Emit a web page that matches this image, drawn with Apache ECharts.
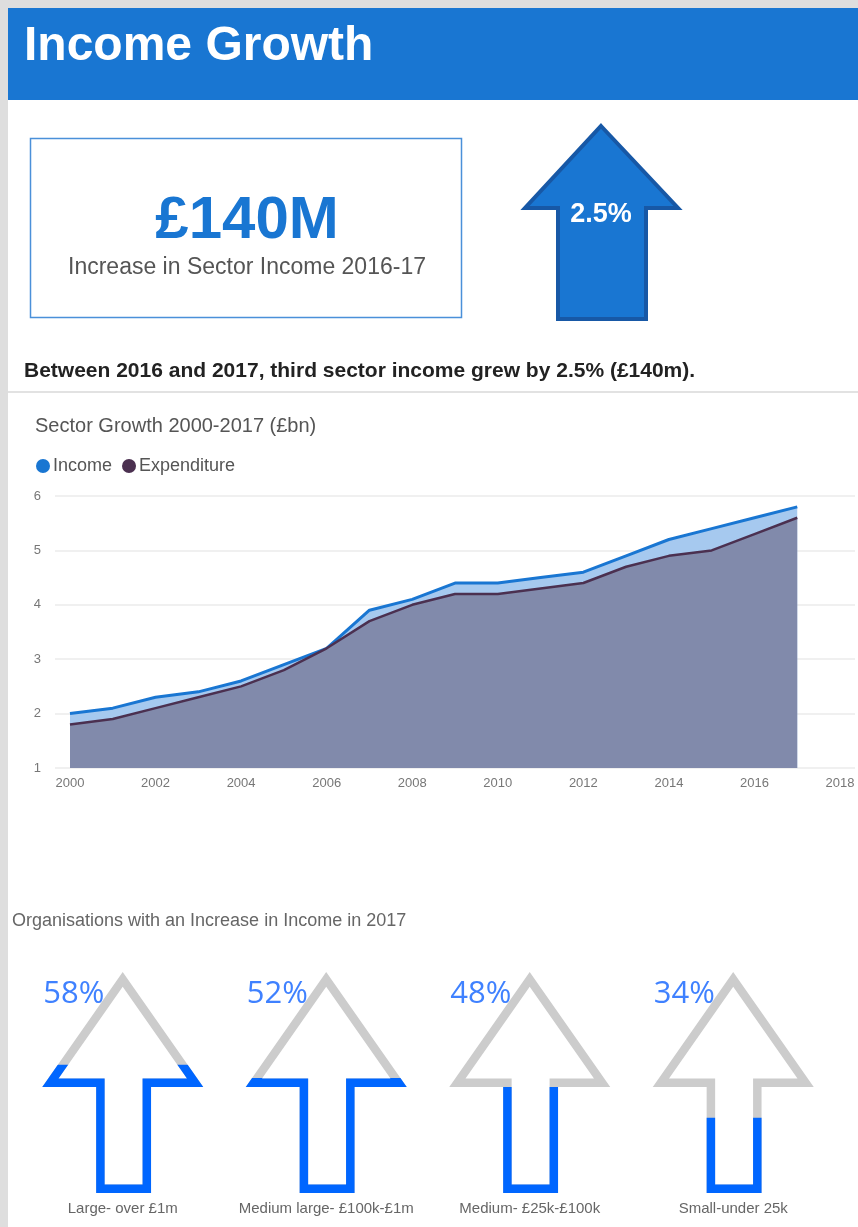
<!DOCTYPE html>
<html>
<head>
<meta charset="utf-8">
<title>Income Growth</title>
<script src="https://cdn.jsdelivr.net/npm/echarts@6/dist/echarts.min.js"></script>
<style>
  html, body { margin: 0; padding: 0; background: #fff; }
  #main { width: 858px; height: 1227px; }
</style>
</head>
<body>
<div id="main"></div>
<script>
// sector totals, £bn
const years = [2000, 2001, 2002, 2003, 2004, 2005, 2006, 2007, 2008, 2009, 2010, 2011, 2012, 2013, 2014, 2015, 2016, 2017];
const income = [2.0, 2.1, 2.3, 2.4, 2.6, 2.9, 3.2, 3.9, 4.1, 4.4, 4.4, 4.5, 4.6, 4.9, 5.2, 5.4, 5.6, 5.8];
const expenditure = [1.8, 1.9, 2.1, 2.3, 2.5, 2.8, 3.2, 3.7, 4.0, 4.2, 4.2, 4.3, 4.4, 4.7, 4.9, 5.0, 5.3, 5.6];
const yearTicks = [2000, 2002, 2004, 2006, 2008, 2010, 2012, 2014, 2016, 2018];

// organisations reporting an increase, by size
const sizeBands = ['Large- over £1m', 'Medium large- £100k-£1m', 'Medium- £25k-£100k', 'Small-under 25k'];
const increasePct = [58, 52, 48, 34];

const headline = '£140M';
const headlineNote = 'Increase in Sector Income 2016-17';
const growthPct = '2.5%';
const summary = 'Between 2016 and 2017, third sector income grew by 2.5% (£140m).';

const BLUE = '#1976D2';
const FONT = '"Liberation Sans", Arial, sans-serif';

// outline arrow: outer ring + inner hole (reverse winding)
const arrowPath = 'path://M80.6,0 L161.3,115 L109,115 L109,221 L54,221 L54,115 L0,115 Z ' +
  'M80.6,14.8 L16.3,106.5 L62.5,106.5 L62.5,212.5 L100.5,212.5 L100.5,106.5 L145,106.5 Z';

const chart = echarts.init(document.getElementById('main'));

chart.setOption({
  backgroundColor: '#fff',
  animation: false,
  textStyle: { fontFamily: FONT },
  title: [
    {
      text: 'Sector Growth 2000-2017 (£bn)',
      left: 30, top: 411,
      textStyle: { fontSize: 20, fontWeight: 'normal', color: '#555' }
    },
    {
      text: 'Organisations with an Increase in Income in 2017',
      left: 7, top: 907,
      textStyle: { fontSize: 18, fontWeight: 'normal', color: '#666' }
    }
  ],
  legend: {
    data: ['Income', 'Expenditure'],
    left: 31, top: 452,
    icon: 'circle',
    itemWidth: 14, itemHeight: 14,
    itemGap: 10,
    textStyle: { fontSize: 18, color: '#555', padding: [0, 0, 0, -2] }
  },
  graphic: [
    { type: 'rect', shape: { x: 0, y: 0, width: 8, height: 1227 }, style: { fill: '#DEDEDE' }, silent: true },
    { type: 'rect', shape: { x: 0, y: 0, width: 858, height: 8 }, style: { fill: '#DEDEDE' }, silent: true },
    { type: 'rect', shape: { x: 8, y: 8, width: 850, height: 92 }, style: { fill: BLUE }, silent: true },
    {
      type: 'text', x: 24, y: 47,
      style: { text: 'Income Growth', fill: '#fff', font: 'bold 48px ' + FONT, verticalAlign: 'middle' }
    },
    {
      type: 'rect', shape: { x: 30.5, y: 138.5, width: 431, height: 179 },
      style: { fill: '#fff', stroke: '#4A90D9', lineWidth: 1.5 }, silent: true
    },
    {
      type: 'text', x: 247, y: 221,
      style: { text: headline, fill: BLUE, font: 'bold 60px ' + FONT, align: 'center', verticalAlign: 'middle' }
    },
    {
      type: 'text', x: 247, y: 268,
      style: { text: headlineNote, fill: '#555', font: '23px ' + FONT, align: 'center', verticalAlign: 'middle' }
    },
    {
      type: 'polygon',
      shape: { points: [[601, 126], [678, 208], [646, 208], [646, 319], [558, 319], [558, 208], [525, 208]] },
      style: { fill: BLUE, stroke: '#1758A6', lineWidth: 4, lineJoin: 'miter' }, silent: true
    },
    {
      type: 'text', x: 601, y: 215,
      style: { text: growthPct, fill: '#fff', font: 'bold 27px ' + FONT, align: 'center', verticalAlign: 'middle' }
    },
    {
      type: 'text', x: 24, y: 371,
      style: { text: summary, fill: '#222', font: 'bold 21px ' + FONT, verticalAlign: 'middle' }
    },
    { type: 'rect', shape: { x: 8, y: 391, width: 850, height: 2 }, style: { fill: '#E2E2E2' }, silent: true }
  ],
  grid: [
    { left: 55, right: 3, top: 496, height: 272 },
    { left: 21, right: 23, top: 972, height: 221 }
  ],
  xAxis: [
    {
      type: 'value', gridIndex: 0,
      min: 1999.65, max: 2018.35,
      axisLine: { show: false }, axisTick: { show: false },
      splitLine: { show: false },
      axisLabel: {
        customValues: yearTicks,
        formatter: v => String(v),
        fontSize: 13, color: '#777', margin: 9
      }
    },
    {
      type: 'category', gridIndex: 1, data: sizeBands,
      axisLine: { show: false }, axisTick: { show: false },
      axisLabel: { fontSize: 15, color: '#666', margin: 8, interval: 0 }
    }
  ],
  yAxis: [
    {
      type: 'value', gridIndex: 0, min: 1, max: 6, interval: 1,
      axisLine: { show: false }, axisTick: { show: false },
      axisLabel: { fontSize: 13, color: '#777', margin: 14 },
      splitLine: { lineStyle: { color: '#EBEBEB', width: 1.5 } }
    },
    {
      type: 'value', gridIndex: 1, min: 0, max: 100, show: false
    }
  ],
  series: [
    {
      name: 'Income', type: 'line', xAxisIndex: 0, yAxisIndex: 0,
      data: years.map((y, i) => [y, income[i]]),
      symbol: 'none', color: BLUE,
      lineStyle: { color: BLUE, width: 3 },
      areaStyle: { color: '#A6C9EF', opacity: 1 },
      z: 2
    },
    {
      name: 'Expenditure', type: 'line', xAxisIndex: 0, yAxisIndex: 0,
      data: years.map((y, i) => [y, expenditure[i]]),
      symbol: 'none', color: '#4B3050',
      lineStyle: { color: '#4B3050', width: 2.5 },
      areaStyle: { color: '#818AAB', opacity: 1 },
      z: 3
    },
    {
      name: 'track', type: 'pictorialBar', xAxisIndex: 1, yAxisIndex: 1,
      data: increasePct,
      symbol: arrowPath, symbolSize: [161, '100%'],
      symbolBoundingData: 100, symbolClip: false,
      barGap: '-100%',
      itemStyle: { color: '#CCCCCC' },
      silent: true, z: 2
    },
    {
      name: 'share', type: 'pictorialBar', xAxisIndex: 1, yAxisIndex: 1,
      data: increasePct,
      symbol: arrowPath, symbolSize: [161, '100%'],
      symbolBoundingData: 100, symbolClip: true,
      barGap: '-100%',
      itemStyle: { color: '#0066FF' },
      silent: true, z: 3
    },
    {
      name: 'pct', type: 'scatter', xAxisIndex: 1, yAxisIndex: 1,
      data: increasePct.map((p, i) => [i, 100, p]),
      symbolSize: 0,
      label: {
        show: true, position: 'inside', offset: [-49, 22],
        formatter: p => p.data[2] + '%',
        fontSize: 31, color: '#0F62FF', fontFamily: '"Open Sans", ' + FONT
      },
      silent: true, z: 4
    }
  ]
});
</script>
</body>
</html>
